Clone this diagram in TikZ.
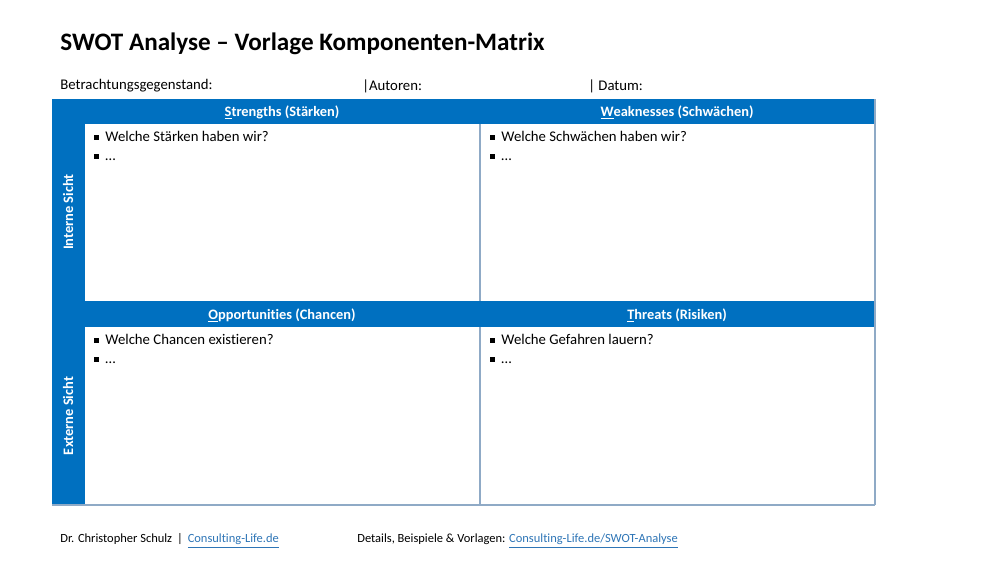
\documentclass[tikz,border=0pt]{standalone}
\usepackage{fontspec}
\setmainfont{Carlito}[Ligatures=NoCommon]
\definecolor{swotblue}{HTML}{0070C0}
\definecolor{gridline}{HTML}{8FAAC6}
\definecolor{linkblue}{HTML}{2E75B6}
\newcommand{\sqbul}{\makebox[6.3pt][l]{\rule[0.28ex]{2.5pt}{2.5pt}}}
\tikzset{
  hdr/.style={text=white,font=\bfseries\fontsize{8.2}{10}\selectfont,inner sep=0pt},
  side/.style={text=white,font=\bfseries\fontsize{8.2}{10}\selectfont,rotate=90,inner sep=0pt},
  bul/.style={anchor=north west,align=left,font=\fontsize{8.4}{10.8}\selectfont,inner sep=0pt},
  meta/.style={anchor=west,font=\fontsize{8.4}{10}\selectfont,inner sep=0pt},
  foot/.style={anchor=west,font=\fontsize{7.1}{8}\selectfont,inner sep=0pt},
  grid/.style={draw=gridline,line width=0.8pt}
}
\begin{document}
\begin{tikzpicture}[x=0.02cm,y=-0.02cm]
        \useasboundingbox (0,0) rectangle (1005,565);
        % title and header line
        \node[anchor=base west,font=\bfseries\fontsize{14.3}{16}\selectfont,inner sep=0pt] (title) at (60,50) {SWOT Analyse – Vorlage Komponenten-Matrix};
        \node[meta] (subject) at (60,86) {Betrachtungsgegenstand:};
        \node[meta] (authors) at (362,86) {|Autoren:};
        \node[meta] (date) at (588,86) {| Datum:};

        % blue bars
        \fill[swotblue] (52,99) rectangle (85,505);
        \fill[swotblue] (85,99) rectangle (875,124);
        \fill[swotblue] (85,301) rectangle (875,327);

        % lines
        \draw[grid] (480,124) -- (480,301);\draw[grid] (480,327) -- (480,505);
        \draw[grid] (875,99) -- (875,505);\draw[grid] (52,505) -- (875,505);

        % headings
        \node[hdr] (str) at (282,112.5) {\underline{S}trengths (Stärken)};
        \node[hdr] (weak) at (677,112.5) {\underline{W}eaknesses (Schwächen)};
        \node[hdr] (opp) at (282,315.5) {\underline{O}pportunities (Chancen)};
        \node[hdr] (thr) at (677,315.5) {\underline{T}hreats (Risiken)};
        \node[side] (int) at (68,212) {Interne Sicht};
        \node[side] (ext) at (68,416) {Externe Sicht};

        % bullets
        \node[bul] (strtext) at (94,131) {\sqbul Welche Stärken haben wir?\\\sqbul …};
        \node[bul] (weaktext) at (490,131) {\sqbul Welche Schwächen haben wir?\\\sqbul …};
        \node[bul] (opptext) at (94,334) {\sqbul Welche Chancen existieren?\\\sqbul …};
        \node[bul] (thrtext) at (490,334) {\sqbul Welche Gefahren lauern?\\\sqbul …};

        % footer
        \node[foot] (name) at (60,541) {Dr. Christopher Schulz \,|\, \textcolor{linkblue}{\underline{Consulting-Life.de}}};
        \node[foot] (details) at (357,541) {Details, Beispiele \& Vorlagen: \textcolor{linkblue}{\underline{Consulting-Life.de/SWOT-Analyse}}};
    \end{tikzpicture}
\end{document}
